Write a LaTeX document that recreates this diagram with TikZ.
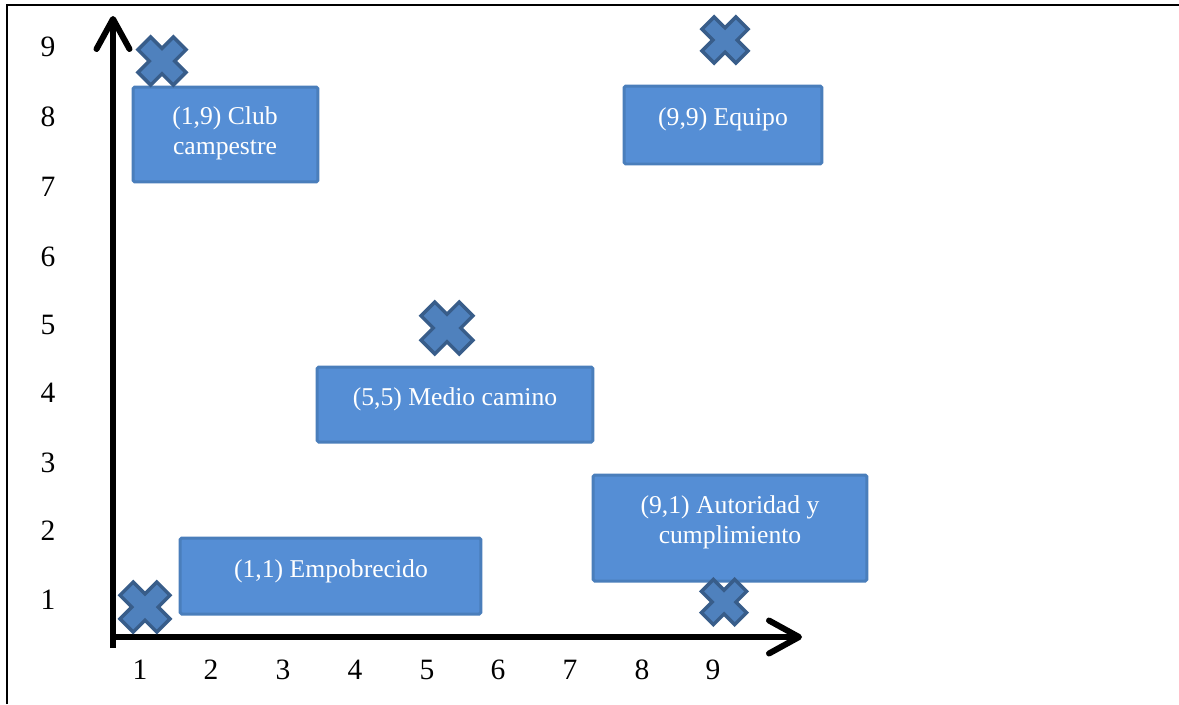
\documentclass[tikz,border=0pt]{standalone}
\usepackage{fontspec}
\setmainfont{Liberation Serif}
\usetikzlibrary{arrows.meta}

\definecolor{cajafill}{RGB}{85,142,213}
\definecolor{cajaborde}{RGB}{74,126,187}
\definecolor{cruzfill}{RGB}{79,129,189}
\definecolor{cruzborde}{RGB}{56,93,138}

\tikzset{
  eje/.style={line width=0.12cm, -{Straight Barb[length=0.6cm,width=0.66cm,round]}},
  caja/.style={rectangle, rounded corners=1pt, fill=cajafill, draw=cajaborde, line width=0.06cm, inner sep=0pt},
  texto/.style={text=white, align=center, font=\fontsize{14.6}{17}\selectfont},
  numero/.style={font=\fontsize{16.8}{20}\selectfont},
  cruz/.pic={
    \filldraw[fill=cruzfill, draw=cruzborde, line width=0.07cm, rotate=45]
      (-9,25) -- (9,25) -- (9,9) -- (25,9) -- (25,-9) -- (9,-9) -- (9,-25)
      -- (-9,-25) -- (-9,-9) -- (-25,-9) -- (-25,9) -- (-9,9) -- cycle;
  }
}

\begin{document}
\begin{tikzpicture}[x=0.02cm, y=-0.02cm]
        \useasboundingbox (0,0) rectangle (1179,704);
        \fill[white] (0,0) rectangle (1179,704);

        % marco
        \coordinate (esq) at (7,5);
        \coordinate (arriba) at (1179,5);
        \coordinate (abajo) at (7,704);
        \draw[line width=0.045cm] (abajo) -- (esq) -- (arriba);

        % ejes
        \coordinate (origen) at (113,648);
        \coordinate (ytop) at (113,16);
        \coordinate (xizq) at (110,637);
        \coordinate (xtip) at (802,637);
        \draw[eje] (origen) -- (ytop);
        \draw[eje] (xizq) -- (xtip);

        \node[numero] (y9) at (48,47) {9};
        \node[numero] (y8) at (48,117) {8};
        \node[numero] (y7) at (48,187) {7};
        \node[numero] (y6) at (48,257) {6};
        \node[numero] (y5) at (48,325) {5};
        \node[numero] (y4) at (48,393) {4};
        \node[numero] (y3) at (48,463) {3};
        \node[numero] (y2) at (48,531) {2};
        \node[numero] (y1) at (48,600) {1};

        \node[numero] (x1) at (140,670) {1};
        \node[numero] (x2) at (211,670) {2};
        \node[numero] (x3) at (283,670) {3};
        \node[numero] (x4) at (355,670) {4};
        \node[numero] (x5) at (427,670) {5};
        \node[numero] (x6) at (498,670) {6};
        \node[numero] (x7) at (570,670) {7};
        \node[numero] (x8) at (642,670) {8};
        \node[numero] (x9) at (713,670) {9};

        % cajas
        \node[caja, minimum width=3.70cm, minimum height=1.90cm] (club) at (225.5,134.5) {};
        \node[caja, minimum width=3.96cm, minimum height=1.56cm] (equipo) at (723,125) {};
        \node[caja, minimum width=5.52cm, minimum height=1.50cm] (medio) at (455,404.5) {};
        \node[caja, minimum width=5.48cm, minimum height=2.12cm] (autoridad) at (730,528) {};
        \node[caja, minimum width=6.02cm, minimum height=1.52cm] (empobrecido) at (330.5,576) {};

        \node[texto] (tclub) at (225,133) {(1,9) Club\\campestre};
        \node[texto] (tequipo) at (723,119) {(9,9) Equipo};
        \node[texto] (tmedio) at (455,399) {(5,5) Medio camino};
        \node[texto] (tautoridad) at (730,522) {(9,1) Autoridad y\\cumplimiento};
        \node[texto] (tempobrecido) at (331,571) {(1,1) Empobrecido};

        % cruces
        \pic at (162,61) {cruz};
        \pic[scale=1.08] at (447,328) {cruz};
        \pic[scale=0.96] at (725,40) {cruz};
        \pic[scale=1.04] at (145,607) {cruz};
        \pic[scale=0.94] at (724,602) {cruz};

    \end{tikzpicture}
\end{document}
